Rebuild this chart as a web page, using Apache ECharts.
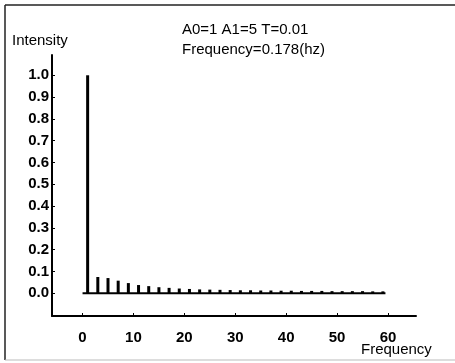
<!DOCTYPE html>
<html>
<head>
<meta charset="utf-8">
<script src="https://cdn.jsdelivr.net/npm/echarts@6/dist/echarts.min.js"></script>
<style>
  html, body { margin: 0; padding: 0; background: #fff; }
  #chart { width: 455px; height: 363px; }
</style>
</head>
<body>
<div id="chart"></div>
<script>
// harmonic frequencies (odd) and their intensities
const frequencies = [1, 3, 5, 7, 9, 11, 13, 15, 17, 19, 21, 23, 25, 27, 29,
  31, 33, 35, 37, 39, 41, 43, 45, 47, 49, 51, 53, 55, 57, 59];
const intensities = [1.0, 0.075, 0.07, 0.058, 0.047, 0.038, 0.033, 0.028, 0.025, 0.022,
  0.02, 0.018, 0.017, 0.016, 0.015, 0.014, 0.014, 0.013, 0.013, 0.012,
  0.012, 0.011, 0.011, 0.011, 0.01, 0.01, 0.01, 0.01, 0.009, 0.009];
const baseline = [[0, 0], [59.5, 0]];
const xTicks = [0, 10, 20, 30, 40, 50, 60];
const yTicks = [0, 0.1, 0.2, 0.3, 0.4, 0.5, 0.6, 0.7, 0.8, 0.9, 1.0];

const font = 'Liberation Sans, Arial, sans-serif';
const chart = echarts.init(document.getElementById('chart'));

chart.setOption({
  animation: false,
  grid: { left: 52, right: 39, top: 55, bottom: 47 },
  xAxis: {
    type: 'value',
    min: -6,
    max: 65.5,
    splitLine: { show: false },
    axisLine: { onZero: false, lineStyle: { color: '#000', width: 2 } },
    axisTick: { inside: true, length: 3, customValues: xTicks, lineStyle: { color: '#000' } },
    axisLabel: {
      customValues: xTicks,
      color: '#000', fontFamily: font, fontSize: 15, fontWeight: 'bold', margin: 14
    }
  },
  yAxis: {
    type: 'value',
    min: -0.104,
    max: 1.093,
    splitLine: { show: false },
    axisLine: { onZero: false, lineStyle: { color: '#000', width: 2 } },
    axisTick: { inside: true, length: 3, customValues: yTicks, lineStyle: { color: '#000' } },
    axisLabel: {
      customValues: yTicks,
      formatter: v => v.toFixed(1),
      color: '#000', fontFamily: font, fontSize: 15, fontWeight: 'bold', margin: 3
    }
  },
  series: [
    {
      type: 'line',
      data: baseline,
      symbol: 'none',
      lineStyle: { color: '#000', width: 2 }
    },
    {
      type: 'bar',
      barWidth: 3,
      data: frequencies.map((f, i) => [f, intensities[i]]),
      itemStyle: { color: '#000' }
    }
  ],
  graphic: [
    // frame of the picture
    { type: 'line', shape: { x1: 5, y1: 5, x2: 455, y2: 5 }, style: { stroke: '#222', lineWidth: 1.5 } },
    { type: 'line', shape: { x1: 5, y1: 5, x2: 5, y2: 360 }, style: { stroke: '#222', lineWidth: 1.5 } },
    { type: 'line', shape: { x1: 5, y1: 360, x2: 455, y2: 360 }, style: { stroke: '#bbb', lineWidth: 1 } },
    { type: 'text', left: 12, top: 33, style: { text: 'Intensity', font: '15px ' + font, fill: '#000' } },
    { type: 'text', left: 182, top: 22, style: { text: 'A0=1 A1=5 T=0.01', font: '15px ' + font, fill: '#000' } },
    { type: 'text', left: 182, top: 42, style: { text: 'Frequency=0.178(hz)', font: '15px ' + font, fill: '#000' } },
    { type: 'text', left: 361, top: 342, style: { text: 'Frequency', font: '15px ' + font, fill: '#000' } }
  ]
});
</script>
</body>
</html>
